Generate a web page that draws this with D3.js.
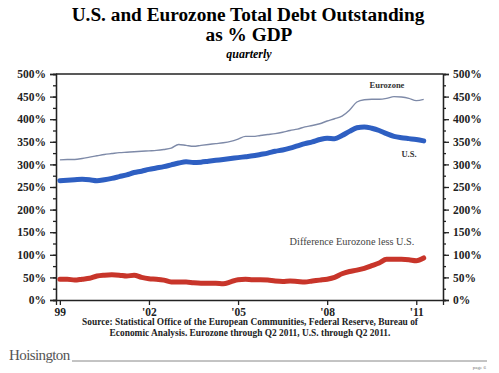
<!DOCTYPE html>
<html>
<head>
<meta charset="utf-8">
<script src="https://cdn.jsdelivr.net/npm/d3@7"></script>
<style>
  body { margin: 0; background: #fff; }
  text { font-family: "Liberation Serif", "Times New Roman", serif; }
</style>
</head>
<body>
<div id="main"></div>
<script>
const width = 499;
const height = 373;
const margin = { left: 56, right: 56, top: 74, bottom: 73 };

// quarterly, 1999 Q1 .. 2011 Q2
const startYear = 1999;
const eurozone = [
  310, 311, 311, 313, 316, 319, 322, 324, 326, 327,
  328, 329, 330, 331, 333, 336, 344, 342, 340, 342,
  344, 346, 348, 351, 356, 362, 362, 364, 366, 368,
  371, 375, 378, 383, 386, 390, 396, 401, 407, 420,
  438, 443, 444, 444, 446, 450, 449, 446, 441, 444,
];
const us = [
  264, 265, 266, 267, 266, 264, 266, 269, 273, 277,
  282, 285, 289, 292, 295, 299, 303, 306, 304, 305,
  307, 309, 311, 313, 315, 317, 319, 322, 325, 329,
  332, 336, 341, 346, 350, 355, 358, 357, 364, 373,
  381, 383, 380, 375, 368, 362, 359, 357, 355, 352,
];
const difference = [
  46, 46, 44, 46, 48, 53, 55, 56, 55, 53,
  55, 50, 47, 46, 44, 40, 40, 40, 38, 37,
  37, 37, 36, 40, 45, 46, 45, 45, 44, 42,
  41, 42, 41, 40, 42, 44, 46, 50, 58, 63,
  66, 70, 76, 82, 90, 90, 90, 89, 87, 93,
];
const xTicks = [1999, 2002, 2005, 2008, 2011];
const xTickLabels = ["99", "'02", "'05", "'08", "'11"];

const svg = d3
  .select("#main")
  .append("svg")
  .attr("width", width)
  .attr("height", height);

const x = d3
  .scaleLinear()
  .domain([1998.87, 2011.9])
  .range([margin.left, width - margin.right]);
const y = d3
  .scaleLinear()
  .domain([0, 500])
  .range([height - margin.bottom, margin.top]);

// titles
svg.append("text")
  .attr("x", 248).attr("y", 21)
  .attr("text-anchor", "middle")
  .style("font-size", "19.3px").style("font-weight", "bold")
  .text("U.S. and Eurozone Total Debt Outstanding");
svg.append("text")
  .attr("x", 249).attr("y", 41)
  .attr("text-anchor", "middle")
  .style("font-size", "19.3px").style("font-weight", "bold")
  .text("as % GDP");
svg.append("text")
  .attr("x", 249).attr("y", 58)
  .attr("text-anchor", "middle")
  .style("font-size", "12px").style("font-weight", "bold").style("font-style", "italic")
  .text("quarterly");

// axes
const minor = d3.range(0, 501, 25);
const major = d3.range(0, 501, 50);
const fmt = (d) => d + "%";

function styleAxis(g) {
  g.selectAll("path, line").attr("stroke", "#222").attr("stroke-width", 1.3);
  g.selectAll("text")
    .style("font-family", "'Liberation Serif', serif")
    .style("font-size", "11.5px")
    .style("font-weight", "bold")
    .attr("fill", "#222");
}

svg.append("g")
  .attr("transform", `translate(${margin.left},0)`)
  .call(d3.axisLeft(y).tickValues(minor).tickSize(3).tickFormat(""))
  .call(styleAxis);
svg.append("g")
  .attr("transform", `translate(${margin.left},0)`)
  .call(d3.axisLeft(y).tickValues(major).tickSize(6).tickPadding(4).tickFormat(fmt))
  .call(styleAxis);

const xr = x.range()[1];
svg.append("g")
  .attr("transform", `translate(${xr},0)`)
  .call(d3.axisRight(y).tickValues(minor).tickSize(3).tickFormat(""))
  .call(styleAxis);
svg.append("g")
  .attr("transform", `translate(${xr},0)`)
  .call(d3.axisRight(y).tickValues(major).tickSize(6).tickPadding(4).tickFormat(fmt))
  .call(styleAxis);

svg.append("g")
  .attr("transform", `translate(0,${y(0)})`)
  .call(
    d3.axisBottom(x)
      .tickValues(xTicks)
      .tickSize(5)
      .tickPadding(3)
      .tickFormat((d, i) => xTickLabels[i])
  )
  .call(styleAxis);

// top frame line
svg.append("line")
  .attr("x1", margin.left).attr("x2", xr)
  .attr("y1", y(500)).attr("y2", y(500))
  .attr("stroke", "#222").attr("stroke-width", 1.3);

// lines
const line = d3
  .line()
  .x((d, i) => x(startYear + i * 0.25))
  .y((d) => y(d))
  .curve(d3.curveMonotoneX);

svg.append("path").datum(eurozone)
  .attr("d", line).attr("fill", "none")
  .attr("stroke", "#7e8aa8").attr("stroke-width", 1.4);
svg.append("path").datum(us)
  .attr("d", line).attr("fill", "none")
  .attr("stroke", "#2e5fc2").attr("stroke-width", 5)
  .attr("stroke-linejoin", "round").attr("stroke-linecap", "round");
svg.append("path").datum(difference)
  .attr("d", line).attr("fill", "none")
  .attr("stroke", "#c8352a").attr("stroke-width", 5)
  .attr("stroke-linejoin", "round").attr("stroke-linecap", "round");

// series labels
svg.append("text")
  .attr("x", 387).attr("y", 88).attr("text-anchor", "middle")
  .style("font-size", "8.5px").style("font-weight", "bold").attr("fill", "#333")
  .text("Eurozone");
svg.append("text")
  .attr("x", 409).attr("y", 157).attr("text-anchor", "middle")
  .style("font-size", "8.5px").style("font-weight", "bold").attr("fill", "#333")
  .text("U.S.");
svg.append("text")
  .attr("x", 352).attr("y", 245).attr("text-anchor", "middle")
  .style("font-size", "10.3px").attr("fill", "#444")
  .text("Difference Eurozone less U.S.");

// source
svg.append("text")
  .attr("x", 250).attr("y", 325).attr("text-anchor", "middle")
  .style("font-size", "9.4px").style("font-weight", "bold").attr("fill", "#222")
  .text("Source:  Statistical Office of the European Communities, Federal Reserve, Bureau of");
svg.append("text")
  .attr("x", 250).attr("y", 336).attr("text-anchor", "middle")
  .style("font-size", "9.4px").style("font-weight", "bold").attr("fill", "#222")
  .text("Economic Analysis. Eurozone through Q2 2011, U.S. through Q2 2011.");

// footer
svg.append("text")
  .attr("x", 9).attr("y", 360)
  .style("font-size", "15px").attr("fill", "#555")
  .style("letter-spacing", "-0.6px")
  .text("Hoisington");
svg.append("line")
  .attr("x1", 72).attr("x2", 487)
  .attr("y1", 361).attr("y2", 361)
  .attr("stroke", "#888").attr("stroke-width", 1);
svg.append("text")
  .attr("x", 486).attr("y", 369).attr("text-anchor", "end")
  .style("font-size", "5px").attr("fill", "#777")
  .text("page 6");
</script>
</body>
</html>
